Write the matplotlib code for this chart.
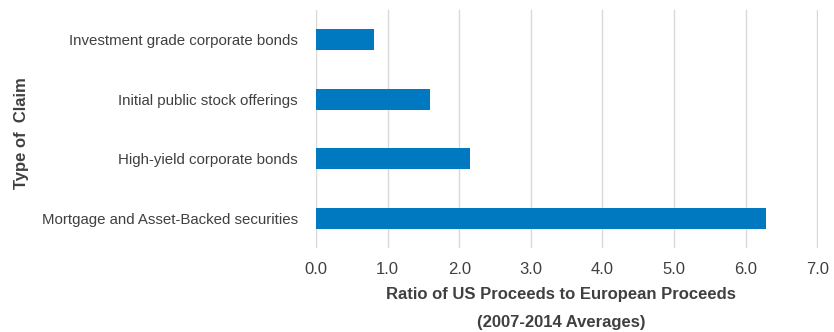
import matplotlib
matplotlib.use("Agg")
import matplotlib.pyplot as plt

claims = [
    "Investment grade corporate bonds",
    "Initial public stock offerings",
    "High-yield corporate bonds",
    "Mortgage and Asset-Backed securities",
]
ratios = [0.81, 1.59, 2.15, 6.28]
ticks = [0, 1, 2, 3, 4, 5, 6, 7]

bar_color = "#0079c1"
text_color = "#404040"

plt.rcParams["font.family"] = ["Liberation Sans", "DejaVu Sans"]

fig = plt.figure(figsize=(8.34, 3.32), dpi=100)
ax = fig.add_axes([316 / 834, 1 - 248 / 332, (818 - 316) / 834, (248 - 10) / 332])

ax.barh(range(len(claims)), ratios, height=0.36, color=bar_color, zorder=3)
ax.set_ylim(3.5, -0.5)
ax.set_xlim(0, 7.01)
ax.set_yticks(range(len(claims)))
ax.set_yticklabels(claims, fontsize=10.8, color=text_color)
ax.set_xticks(ticks)
ax.set_xticklabels([f"{t:.1f}" for t in ticks], fontsize=12, color=text_color)
ax.tick_params(axis="both", length=0)
ax.tick_params(axis="y", pad=13)
ax.tick_params(axis="x", pad=10)
ax.grid(axis="x", color="#d9d9d9", linewidth=1, zorder=0)
for s in ax.spines.values():
    s.set_visible(False)

bold = dict(fontweight="bold", color=text_color, fontsize=12)
fig.text(561 / 834, 1 - 294 / 332, "Ratio of US Proceeds to European Proceeds",
         ha="center", va="center", **bold)
fig.text(561 / 834, 1 - 323 / 332, "(2007-2014 Averages)",
         ha="center", va="center", **bold)
fig.text(22 / 834, 1 - 133 / 332, "Type of  Claim", rotation=90,
         ha="center", va="center", **bold)

fig.savefig("out.png", dpi=100)
